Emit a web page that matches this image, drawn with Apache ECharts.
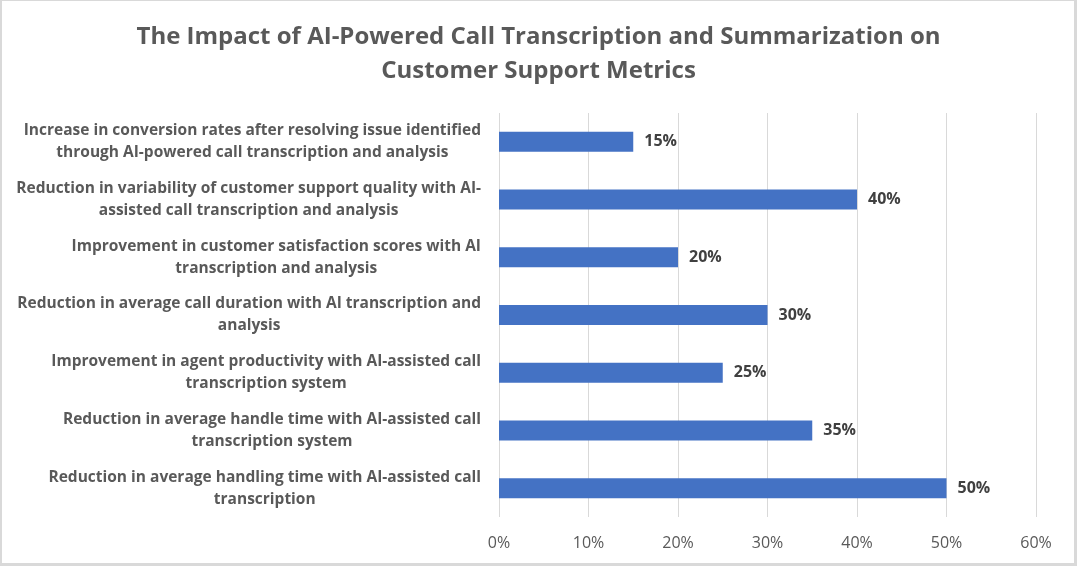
<!DOCTYPE html>
<html>
<head>
<meta charset="utf-8">
<script src="https://cdn.jsdelivr.net/npm/echarts@6/dist/echarts.min.js"></script>
<style>
html,body{margin:0;padding:0;background:#fff;}
#wrap{width:1077px;height:566px;box-sizing:border-box;border-style:solid;border-color:#D9D9D9;border-width:1px 3px 3px 2px;position:relative;overflow:hidden;}
#chart{position:absolute;left:-2px;top:-1px;width:1077px;height:566px;}
</style>
</head>
<body>
<div id="wrap"><div id="chart"></div></div>
<script>
const titleText = 'The Impact of AI-Powered Call Transcription and Summarization on\nCustomer Support Metrics';
const categories = [
  'Increase in conversion rates after resolving issue identified\nthrough AI-powered call transcription and analysis',
  'Reduction in variability of customer support quality with AI-\nassisted call transcription and analysis',
  'Improvement in customer satisfaction scores with AI\ntranscription and analysis',
  'Reduction in average call duration with AI transcription and\nanalysis',
  'Improvement in agent productivity with AI-assisted call\ntranscription system',
  'Reduction in average handle time with AI-assisted call\ntranscription system',
  'Reduction in average handling time with AI-assisted call\ntranscription'
];
const values = [15, 40, 20, 30, 25, 35, 50];
const xTicks = { min: 0, max: 60, interval: 10 };

const FONT = 'Open Sans';
const chart = echarts.init(document.getElementById('chart'), null, { renderer: 'canvas' });
chart.setOption({
  backgroundColor: '#ffffff',
  animation: false,
  title: {
    text: titleText,
    left: 'center',
    top: 20,
    padding: 0,
    textStyle: {
      fontFamily: FONT,
      fontSize: 24,
      fontWeight: 'bold',
      color: '#595959',
      lineHeight: 34
    }
  },
  grid: { left: 499, right: 41, top: 113, bottom: 49, containLabel: false },
  xAxis: {
    type: 'value',
    min: xTicks.min,
    max: xTicks.max,
    interval: xTicks.interval,
    axisLine: { show: false },
    axisTick: { show: false },
    splitLine: { show: true, lineStyle: { color: '#D9D9D9', width: 1 } },
    axisLabel: {
      formatter: '{value}%',
      margin: 18,
      fontFamily: FONT,
      fontSize: 16,
      color: '#595959'
    }
  },
  yAxis: {
    type: 'category',
    inverse: true,
    data: categories,
    axisLine: { show: false },
    axisTick: { show: false },
    splitLine: { show: false },
    axisLabel: {
      margin: 18,
      align: 'right',
      formatter: function (v) {
        return v.split('\n').map(function (l) { return '{c|' + l + '}'; }).join('\n');
      },
      rich: {
        c: {
          align: 'center',
          fontFamily: FONT,
          fontSize: 15.5,
          fontWeight: 'bold',
          color: '#595959',
          lineHeight: 22
        }
      }
    }
  },
  series: [{
    type: 'bar',
    data: values,
    barWidth: 20,
    itemStyle: { color: '#4472C4' },
    label: {
      show: true,
      position: 'right',
      distance: 11,
      formatter: '{c}%',
      fontFamily: FONT,
      fontSize: 16,
      fontWeight: 'bold',
      color: '#404040',
      padding: [6, 0, 0, 0]
    }
  }]
});
</script>
</body>
</html>
